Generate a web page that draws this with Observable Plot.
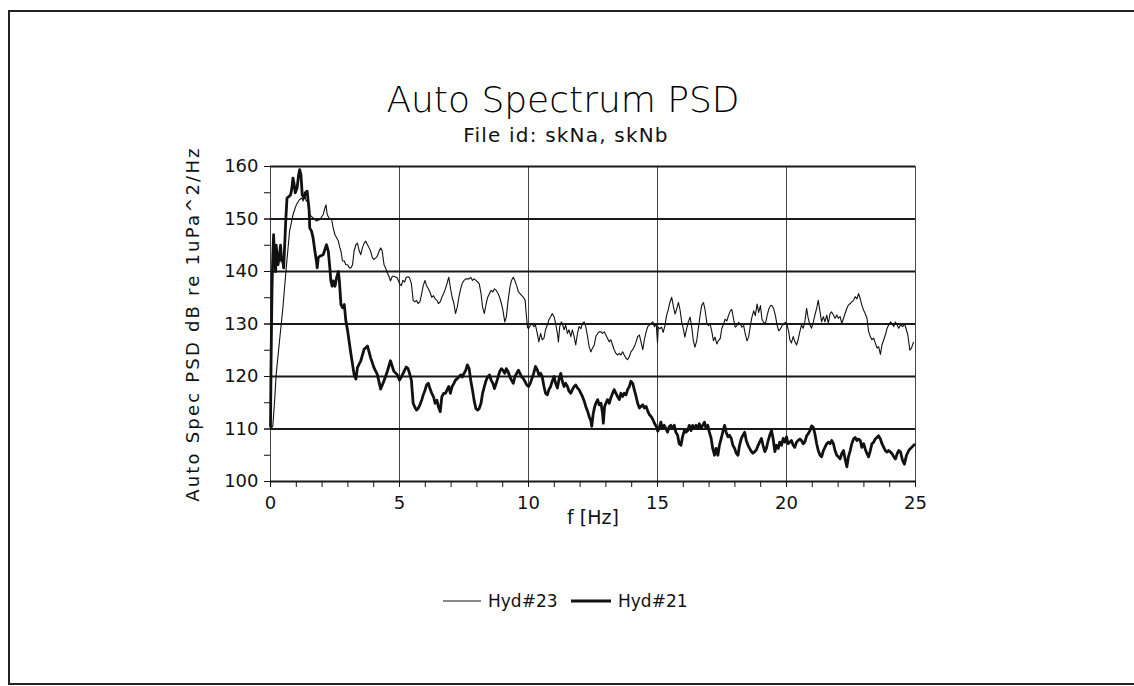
<!DOCTYPE html>
<html>
<head>
<meta charset="utf-8">
<script src="https://cdn.jsdelivr.net/npm/d3@7"></script>
<script src="https://cdn.jsdelivr.net/npm/@observablehq/plot@0.6"></script>
<style>
  html, body { margin: 0; padding: 0; background: #fff; overflow: hidden; }
  #page { position: relative; width: 1134px; height: 686px; overflow: hidden; font-family: "DejaVu Sans", sans-serif; color: #111; }
  #frame { position: absolute; left: 8px; top: 10px; width: 1200px; height: 671px; border-top: 2px solid #222; border-left: 2px solid #222; border-bottom: 2px solid #222; border-right: 0; }
  .t { position: absolute; white-space: nowrap; }
  #chart { position: absolute; left: 0; top: 140px; }
</style>
</head>
<body>
<div id="page">
  <div id="frame"></div>
  <div class="t" id="title"></div>
  <div class="t" id="subtitle"></div>
  <div id="chart"></div>
  <div id="legend"></div>
</div>
<script>
const titleText = "Auto Spectrum PSD";
const subtitleText = "File id: skNa, skNb";
const xLabel = "f [Hz]";
const yLabel = "Auto Spec PSD dB re 1uPa^2/Hz";
const seriesNames = ["Hyd#23", "Hyd#21"];
const xTicks = [0, 5, 10, 15, 20, 25];
const yTicks = [100, 110, 120, 130, 140, 150, 160];

// Hyd#23 (thin line): [frequency Hz, dB]
const hyd23 = [
[0,110.6],[0.04,110.2],[0.09,110.6],[0.16,115.4],[0.22,120.4],[0.35,126.8],[0.48,133.1],[0.61,140.7],[0.74,147.7],[0.87,150.8],
[1.0,152.7],[1.13,153.7],[1.22,154],[1.26,153.4],[1.32,154.6],[1.39,153.4],[1.45,153.7],[1.52,150.8],[1.65,150.2],[1.78,149.6],
[1.91,149.9],[2.04,150.8],[2.11,152.1],[2.15,152.7],[2.2,150.8],[2.3,149.9],[2.37,149.9],[2.43,148.3],[2.5,147],[2.63,145.8],
[2.69,144.5],[2.73,143.9],[2.79,142],[2.86,142],[2.92,141.3],[2.99,141.3],[3.05,140.7],[3.12,140.7],[3.18,141.3],[3.24,143.9],
[3.31,145.1],[3.37,145.4],[3.44,143.9],[3.5,143.2],[3.56,144.5],[3.63,145.4],[3.69,145.8],[3.76,145.1],[3.82,144.5],[3.88,143.9],
[3.95,142.6],[4.01,142.3],[4.08,142.6],[4.14,142.9],[4.21,143.9],[4.27,144.5],[4.33,143.9],[4.4,141.3],[4.46,140.7],[4.53,139.7],
[4.59,139.1],[4.65,138.2],[4.72,139.1],[4.78,139.1],[4.91,138.8],[5.0,137.7],[5.07,137.3],[5.13,138.3],[5.2,138],[5.26,138.9],
[5.33,139],[5.39,138.8],[5.46,137.7],[5.53,134.5],[5.59,134.2],[5.66,134.5],[5.72,133.9],[5.79,134.2],[5.86,135.8],[5.92,137.3],
[5.99,138.3],[6.05,137.3],[6.12,136.7],[6.18,136.1],[6.25,135.1],[6.32,135.4],[6.38,134.8],[6.45,134.5],[6.51,133.9],[6.58,134.2],
[6.64,135.1],[6.71,135.8],[6.78,136.7],[6.84,137.7],[6.91,138.9],[6.97,137],[7.04,135.1],[7.11,133.9],[7.17,132],[7.24,133.2],
[7.3,135.1],[7.37,136.7],[7.43,137.7],[7.5,138.3],[7.57,138.6],[7.7,138.6],[7.76,138.9],[7.83,138.3],[7.89,138.6],[7.96,138.3],
[8.03,138],[8.09,137.7],[8.16,135.8],[8.22,133.2],[8.29,132],[8.36,133.9],[8.42,135.1],[8.49,135.8],[8.55,136.4],[8.62,136.1],
[8.68,136.7],[8.75,136.4],[8.82,135.8],[8.88,135.1],[8.95,133.9],[9.01,132.6],[9.08,130.4],[9.14,131.3],[9.21,134.5],[9.28,137],
[9.34,138.3],[9.41,138.9],[9.47,138.3],[9.54,137.3],[9.61,136.1],[9.67,135.8],[9.74,135.4],[9.8,135.1],[9.87,134.5],[9.91,132],
[9.96,129.4],[10.0,129.1],[10.08,129.8],[10.14,130.1],[10.21,129.5],[10.27,129.8],[10.34,128.2],[10.4,126.6],[10.47,128.2],[10.53,127],
[10.6,127.3],[10.66,128.9],[10.73,129.8],[10.79,130.8],[10.86,131.4],[10.92,132],[10.99,131.4],[11.05,130.1],[11.12,128.2],[11.16,126.6],
[11.21,129.5],[11.27,130.4],[11.31,130.1],[11.38,128.9],[11.44,129.8],[11.51,128.2],[11.57,128.9],[11.64,127.6],[11.7,128.9],[11.77,127.6],
[11.83,126],[11.9,128.2],[11.96,129.5],[12.03,129.1],[12.09,130.1],[12.16,130.4],[12.22,129.5],[12.29,127.6],[12.35,125.7],[12.42,124.7],
[12.48,125.4],[12.55,126],[12.61,127.6],[12.68,128.2],[12.74,128.5],[12.81,128.5],[12.87,128.2],[12.94,128.5],[13.0,127.9],[13.06,127.3],
[13.13,126.6],[13.19,127],[13.26,126],[13.32,125.1],[13.39,124.4],[13.45,124.1],[13.52,124.4],[13.58,124.1],[13.65,124.7],[13.71,124.1],
[13.78,123.5],[13.84,123.2],[13.91,123.8],[13.97,124.7],[14.04,125.1],[14.1,125.7],[14.17,126.6],[14.23,127.6],[14.3,127.9],[14.36,126.6],
[14.43,125.1],[14.49,127],[14.56,128.5],[14.62,129.5],[14.69,129.8],[14.75,130.1],[14.82,130.4],[14.88,129.5],[14.95,130.1],[15.0,126.4],
[15.03,129.4],[15.09,129.1],[15.16,129.4],[15.22,128.4],[15.29,129.7],[15.35,131.6],[15.42,132.8],[15.48,134.1],[15.55,135.1],[15.61,133.5],
[15.68,131.9],[15.74,132.8],[15.81,134.1],[15.87,132.8],[15.94,130.3],[16.0,129.1],[16.06,127.5],[16.13,129.1],[16.19,130.3],[16.26,131.3],
[16.32,129.7],[16.39,126.8],[16.45,125.6],[16.52,126.8],[16.58,129.1],[16.65,131.6],[16.71,133.5],[16.78,134.1],[16.84,132.8],[16.91,130.3],
[16.97,129.7],[17.04,130],[17.1,128.7],[17.17,126.8],[17.23,127.5],[17.3,126.2],[17.36,126.8],[17.43,127.2],[17.49,129.1],[17.56,130],
[17.62,130.9],[17.69,130.6],[17.75,131.6],[17.82,132.5],[17.88,132.8],[17.95,130.9],[18.01,129.4],[18.08,129.7],[18.14,130.3],[18.21,130],
[18.27,129.4],[18.34,129.7],[18.4,128.1],[18.47,126.8],[18.53,127.5],[18.6,129.7],[18.66,131.3],[18.73,132.5],[18.79,131.6],[18.86,133.8],
[18.92,132.2],[18.99,133.5],[19.05,130.9],[19.12,130.3],[19.18,130],[19.25,131.6],[19.31,132.8],[19.38,133.5],[19.44,133.5],[19.51,132.8],
[19.57,131.6],[19.64,129.7],[19.7,128.7],[19.77,129.1],[19.83,129.7],[19.9,130],[19.96,130.3],[20.03,129.7],[20.09,128.4],[20.13,127],
[20.19,126.4],[20.26,127.6],[20.32,126.7],[20.39,126],[20.45,127],[20.52,128.6],[20.58,129.8],[20.65,129.2],[20.71,130.4],[20.78,133],
[20.84,131.1],[20.91,129.8],[20.97,129.2],[21.04,130.4],[21.1,131.7],[21.17,133],[21.23,134.5],[21.3,132.3],[21.36,130.4],[21.43,131.4],
[21.49,130.4],[21.56,131.7],[21.62,130.1],[21.69,132],[21.75,132.3],[21.82,131.7],[21.88,131.1],[21.95,131.7],[22.01,131.1],[22.08,131.4],
[22.14,130.1],[22.21,131.1],[22.27,132],[22.34,133],[22.4,133.6],[22.47,133.9],[22.53,134.2],[22.6,134.5],[22.66,135.2],[22.73,134.8],
[22.79,135.8],[22.86,134.8],[22.92,133.6],[22.99,132.6],[23.05,132],[23.12,131.1],[23.18,128.6],[23.25,127.6],[23.31,127],[23.38,127.3],
[23.44,126.4],[23.51,125.4],[23.57,125.7],[23.64,124.2],[23.7,126],[23.77,127],[23.83,127.9],[23.9,129.2],[23.96,129.8],[24.03,130.4],
[24.09,130.1],[24.16,129.5],[24.22,130.4],[24.29,129.8],[24.35,129.2],[24.42,129.8],[24.5,129.5],[24.58,130],[24.7,128],[24.78,125],
[24.85,125.5],[24.92,126.5]
];

// Hyd#21 (thick line): [frequency Hz, dB]
const hyd21 = [
[0,110.5],[0.02,122],[0.04,130],[0.06,137],[0.09,143],[0.12,147],[0.16,142],[0.2,140],[0.22,145],[0.29,141.3],
[0.35,143.2],[0.39,145],[0.43,142],[0.48,142],[0.51,140.7],[0.55,145],[0.59,149.6],[0.64,154],[0.72,154.3],[0.78,154.6],
[0.83,155.9],[0.87,157.8],[0.91,156.8],[0.96,155],[1.03,155.9],[1.09,158.4],[1.13,159.4],[1.18,158.4],[1.23,154.6],[1.3,154],
[1.35,155],[1.42,155.3],[1.5,151.5],[1.52,148.3],[1.59,147.7],[1.65,146.4],[1.72,143.9],[1.78,142],[1.81,140.7],[1.85,142.6],
[1.91,142.9],[2.04,143.2],[2.11,144.2],[2.17,145.1],[2.24,143.9],[2.3,140.7],[2.34,138.2],[2.39,137.2],[2.43,138.2],[2.5,137.2],
[2.56,138.8],[2.63,140],[2.67,138.2],[2.73,133.7],[2.79,133.1],[2.86,133.7],[2.92,130.6],[2.99,128.7],[3.12,124.2],[3.24,120.4],
[3.31,119.5],[3.37,121.7],[3.5,123],[3.63,125.2],[3.76,125.8],[3.88,123.6],[4.01,121.7],[4.14,120.4],[4.27,117.6],[4.4,119.2],
[4.53,121],[4.65,123],[4.78,121],[4.91,120.4],[5.0,119.3],[5.07,119.9],[5.2,121.2],[5.26,121.8],[5.33,121.5],[5.39,120.6],
[5.46,119.3],[5.53,114.9],[5.59,114.2],[5.66,113.6],[5.72,113.9],[5.79,114.6],[5.86,115.5],[5.92,116.5],[5.99,117.4],[6.05,118.4],
[6.12,118.7],[6.18,117.7],[6.25,116.8],[6.32,116.1],[6.38,114.9],[6.45,115.5],[6.51,114.2],[6.58,113.3],[6.64,116.1],[6.71,116.8],
[6.78,116.8],[6.84,117.4],[6.91,118.1],[6.97,116.8],[7.04,118.1],[7.11,118.7],[7.17,119.3],[7.24,119.6],[7.3,119.9],[7.37,120.3],
[7.43,119.9],[7.5,120.6],[7.57,121.2],[7.63,122.2],[7.7,121.5],[7.76,119.3],[7.83,117.4],[7.89,115.5],[7.96,113.9],[8.03,113.6],
[8.09,113.9],[8.16,114.9],[8.22,116.8],[8.29,118.1],[8.36,119.3],[8.42,119.9],[8.49,120.3],[8.55,119.3],[8.62,118.7],[8.68,117.7],
[8.75,118.7],[8.82,119.9],[8.88,120.9],[8.95,121.5],[9.01,121.2],[9.08,120.6],[9.14,121.5],[9.21,120.9],[9.28,119.9],[9.34,119.3],
[9.41,118.7],[9.47,119.9],[9.54,120.6],[9.61,121.2],[9.67,120.6],[9.74,119.9],[9.8,119.6],[9.87,119],[9.93,118.4],[10.0,118.1],
[10.07,118.7],[10.13,119.6],[10.2,120.6],[10.27,121.9],[10.34,121.3],[10.4,120.3],[10.47,120.6],[10.53,120],[10.6,118.1],[10.66,116.8],
[10.73,116.5],[10.79,117.5],[10.86,118.1],[10.92,119.1],[10.99,120],[11.05,118.7],[11.12,117.8],[11.18,119.4],[11.25,120.6],[11.31,119.1],
[11.38,118.1],[11.44,118.7],[11.51,118.1],[11.57,117.2],[11.64,116.8],[11.7,117.5],[11.77,118.1],[11.83,118.4],[11.9,117.8],[11.96,117.5],
[12.03,116.8],[12.09,116.2],[12.16,115.3],[12.22,114.3],[12.29,113.4],[12.35,112.4],[12.42,111.5],[12.45,110.5],[12.51,113],[12.57,114.3],
[12.61,114.9],[12.68,115.6],[12.74,114.6],[12.81,114.9],[12.87,113],[12.9,111.1],[12.95,114.3],[13.0,114.9],[13.06,115.6],[13.13,114.9],
[13.19,115.9],[13.26,116.8],[13.32,117.5],[13.39,116.8],[13.45,116.2],[13.52,115.6],[13.58,116.8],[13.65,116.2],[13.71,116.8],[13.78,116.5],
[13.84,117.5],[13.91,118.1],[13.97,119.1],[14.04,118.7],[14.1,117.5],[14.17,116.2],[14.23,114.9],[14.3,114],[14.36,114.3],[14.43,114.6],
[14.49,114],[14.56,114.3],[14.62,113.4],[14.69,112.7],[14.75,112.4],[14.82,111.8],[14.88,111.1],[14.95,110.5],[15.01,109.6],[15.06,110.1],
[15.13,111.3],[15.19,110.1],[15.26,110.7],[15.32,110.1],[15.39,109.4],[15.45,110.4],[15.52,110.7],[15.58,110.1],[15.65,110.7],[15.71,109.4],
[15.78,108.8],[15.84,107.2],[15.91,106.9],[15.97,108.5],[16.04,109.7],[16.1,109.4],[16.17,109.7],[16.23,110.7],[16.3,109.7],[16.36,110.7],
[16.43,110.1],[16.49,110.7],[16.56,110.1],[16.62,111],[16.69,110.1],[16.75,110.7],[16.82,111.3],[16.88,110.1],[16.95,110.7],[17.01,109.4],
[17.08,108.2],[17.14,106.3],[17.21,105],[17.27,106.3],[17.34,105],[17.4,106.9],[17.47,108.2],[17.53,109.4],[17.6,110.7],[17.66,109.4],
[17.73,108.5],[17.79,108.8],[17.86,108.2],[17.92,106.9],[17.99,106.3],[18.05,105.4],[18.12,105],[18.18,106.9],[18.25,108.2],[18.31,108.8],
[18.38,109.4],[18.44,107.8],[18.51,106.9],[18.57,106.3],[18.64,105.7],[18.7,105.4],[18.77,105.7],[18.83,106],[18.9,106.9],[18.96,107.5],
[19.03,108.2],[19.09,106.9],[19.16,105.7],[19.22,106.3],[19.29,107.8],[19.35,108.8],[19.42,109.7],[19.48,108.2],[19.55,105.7],[19.61,106.9],
[19.68,106.3],[19.74,107.5],[19.81,106.9],[19.87,108.2],[19.94,107.5],[20.0,108.5],[20.06,107.2],[20.13,107.5],[20.19,107.8],[20.26,106.9],
[20.32,106.5],[20.39,107.5],[20.45,107.8],[20.52,108.1],[20.58,107.8],[20.65,107.2],[20.71,107.5],[20.78,108.7],[20.84,109.1],[20.91,109.7],
[20.97,110.6],[21.04,110.3],[21.1,109.1],[21.17,107.2],[21.23,105.9],[21.3,105],[21.36,104.7],[21.43,105.9],[21.49,106.5],[21.56,107.2],
[21.62,107.5],[21.69,107.2],[21.75,107.8],[21.82,107.2],[21.88,105.9],[21.95,105],[22.01,104.7],[22.08,104.3],[22.14,105.3],[22.21,105.9],
[22.27,104.3],[22.34,102.8],[22.4,104.7],[22.47,105.9],[22.53,107.2],[22.6,108.1],[22.66,108.4],[22.73,107.8],[22.79,108.1],[22.86,107.8],
[22.92,106.5],[22.99,107.2],[23.05,106.2],[23.12,105.3],[23.18,104.7],[23.25,105.9],[23.31,107.2],[23.38,107.5],[23.44,108.1],[23.51,108.4],
[23.57,108.7],[23.64,108.1],[23.7,107.2],[23.77,106.5],[23.83,105.9],[23.9,105.6],[23.96,105.9],[24.03,105.6],[24.09,105.3],[24.16,104.7],
[24.22,104.3],[24.29,105.3],[24.35,105.9],[24.42,105.6],[24.5,104],[24.57,103.3],[24.65,105],[24.75,106],[24.85,106.5],[24.95,107]
];

const font = '"DejaVu Sans", sans-serif';
const ink = "#111";

// Title and subtitle
const title = document.getElementById("title");
title.textContent = titleText;
Object.assign(title.style, {left: "0px", width: "1126px", textAlign: "center", top: "80px", fontSize: "36px", lineHeight: "40px", fontWeight: "200", color: "#000"});
const subtitle = document.getElementById("subtitle");
subtitle.textContent = subtitleText;
Object.assign(subtitle.style, {left: "0px", width: "1132px", textAlign: "center", top: "123px", fontSize: "20px", lineHeight: "24px", letterSpacing: "1.2px"});

const chart = Plot.plot({
  width: 1134,
  height: 420,
  marginLeft: 270,
  marginRight: 219,
  marginTop: 26,
  marginBottom: 79,
  x: {domain: [0, 25]},
  y: {domain: [100, 160]},
  style: {fontFamily: font, fontSize: "18px", color: ink, background: "transparent", overflow: "visible"},
  marks: [
    Plot.ruleX(xTicks, {stroke: "#444", strokeWidth: 1}),
    Plot.ruleY(yTicks, {stroke: "#1a1a1a", strokeWidth: 1.8}),
    Plot.line(hyd23, {x: d => d[0], y: d => d[1], stroke: ink, strokeWidth: 1.1}),
    Plot.line(hyd21, {x: d => d[0], y: d => d[1], stroke: ink, strokeWidth: 2.8}),
    Plot.axisX({ticks: d3.range(0, 26, 1), tickSize: 6, tickFormat: () => "", label: null, stroke: ink}),
    Plot.axisX({ticks: xTicks, tickSize: 6, tickPadding: 9, tickFormat: d => String(d), label: null, stroke: ink, fill: ink}),
    Plot.axisY({ticks: d3.range(100, 161, 5), tickSize: 6, tickFormat: () => "", label: null, stroke: ink}),
    Plot.axisY({ticks: yTicks, tickSize: 6, tickPadding: 6, tickFormat: d => String(d), label: null, stroke: ink, fill: ink}),
    Plot.text([xLabel], {frameAnchor: "bottom", dy: 42, fill: ink, fontSize: 19, text: d => d}),
    Plot.text([yLabel], {frameAnchor: "left", dx: -77, rotate: -90, textAnchor: "middle", fill: ink, fontSize: 18, text: d => d})
  ]
});
chart.querySelectorAll("text").forEach(t => {
  if (t.textContent === yLabel) t.style.letterSpacing = "2.2px";
});
document.getElementById("chart").appendChild(chart);

// Legend
const legend = document.getElementById("legend");
const svgNS = "http://www.w3.org/2000/svg";
const lg = document.createElementNS(svgNS, "svg");
lg.setAttribute("width", 1134); lg.setAttribute("height", 40);
lg.style.position = "absolute"; lg.style.left = "0px"; lg.style.top = "581px";
const items = [
  {name: seriesNames[0], x1: 443, x2: 481, tx: 488, w: 1.1},
  {name: seriesNames[1], x1: 571, x2: 611, tx: 618, w: 2.8}
];
items.forEach(it => {
  const l = document.createElementNS(svgNS, "line");
  l.setAttribute("x1", it.x1); l.setAttribute("x2", it.x2);
  l.setAttribute("y1", 20); l.setAttribute("y2", 20);
  l.setAttribute("stroke", ink); l.setAttribute("stroke-width", it.w);
  lg.appendChild(l);
  const t = document.createElementNS(svgNS, "text");
  t.setAttribute("x", it.tx); t.setAttribute("y", 26);
  t.setAttribute("font-family", font); t.setAttribute("font-size", 17);
  t.setAttribute("fill", ink);
  t.textContent = it.name;
  lg.appendChild(t);
});
legend.appendChild(lg);
</script>
</body>
</html>
